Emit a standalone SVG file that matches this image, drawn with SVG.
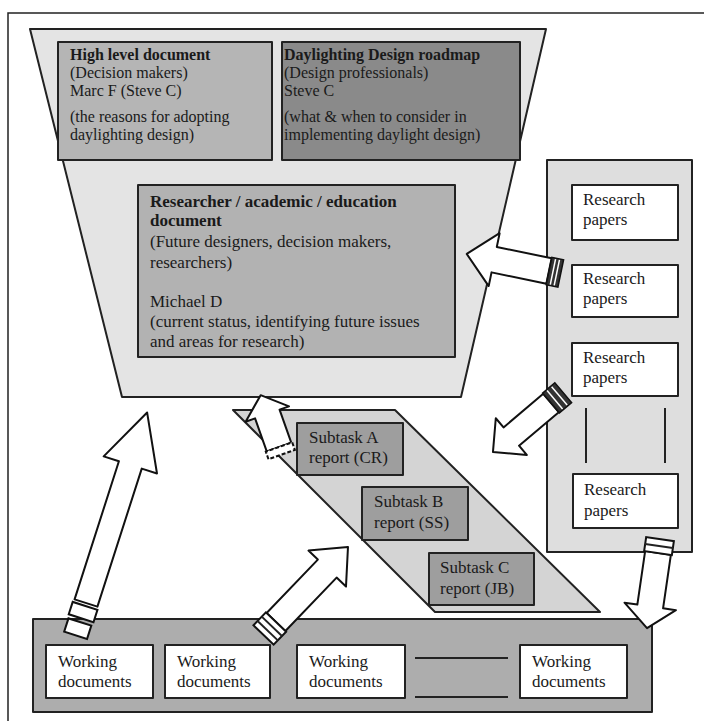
<svg xmlns="http://www.w3.org/2000/svg" width="704" height="721" viewBox="0 0 704 721">
<style>
.ln{stroke:#222;stroke-width:2;stroke-linejoin:round}
.t{font-family:"Liberation Serif","Times New Roman",serif;font-size:17px;fill:#1a1a1a}
.s{font-size:16px}
.b{font-weight:bold}
.w{fill:#fff}
.arr{fill:#fff;stroke:#111;stroke-width:2;stroke-linejoin:round}
.cap{fill:#fff;stroke:#111;stroke-width:2}
.dcap{fill:#333;stroke:#111;stroke-width:1.5}
.st{stroke:#fff;stroke-width:1.5}
</style>
<rect width="704" height="721" fill="#fff"/>
<path d="M8,721 L8,13 L704,13" fill="none" stroke="#222" stroke-width="1.5"/>

<g id="funnel">
<path class="ln" d="M30,29 L546,29 L461,397 L122,397 Z" fill="#e4e4e4"/>
</g>
<g id="high-level">
<rect class="ln" x="58" y="42" width="214" height="118" fill="#b5b5b5"/>
<text class="t s"><tspan class="b" x="70" y="60">High level document</tspan><tspan x="70" y="78">(Decision makers)</tspan><tspan x="70" y="96">Marc F (Steve C)</tspan><tspan x="70" y="122">(the reasons for adopting</tspan><tspan x="70" y="140">daylighting design)</tspan></text>
</g>
<g id="roadmap">
<rect class="ln" x="282" y="42" width="238" height="118" fill="#8a8a8a"/>
<text class="t s"><tspan class="b" x="284" y="60">Daylighting Design roadmap</tspan><tspan x="284" y="78">(Design professionals)</tspan><tspan x="284" y="96">Steve C</tspan><tspan x="284" y="122">(what &amp; when to consider in</tspan><tspan x="284" y="140">implementing daylight design)</tspan></text>
</g>
<g id="researcher">
<rect class="ln" x="138" y="185" width="317" height="172" fill="#b2b2b2"/>
<text class="t"><tspan class="b" x="150" y="207">Researcher / academic / education</tspan><tspan class="b" x="150" y="226">document</tspan><tspan x="150" y="247">(Future designers, decision makers,</tspan><tspan x="150" y="268">researchers)</tspan><tspan x="150" y="307">Michael D</tspan><tspan x="150" y="327">(current status, identifying future issues</tspan><tspan x="150" y="347">and areas for research)</tspan></text>
</g>

<g id="research-panel">
<rect class="ln" x="547" y="160" width="145" height="392" fill="#dedede"/>
<rect class="ln w" x="572" y="185" width="106" height="55"/>
<text class="t"><tspan x="583" y="205">Research</tspan><tspan x="583" y="225">papers</tspan></text>
<rect class="ln w" x="572" y="265" width="106" height="52"/>
<text class="t"><tspan x="583" y="284">Research</tspan><tspan x="583" y="304">papers</tspan></text>
<rect class="ln w" x="572" y="343" width="106" height="53"/>
<text class="t"><tspan x="583" y="363">Research</tspan><tspan x="583" y="383">papers</tspan></text>
<line class="ln" x1="586" y1="408" x2="586" y2="463"/>
<line class="ln" x1="665" y1="408" x2="665" y2="463"/>
<rect class="ln w" x="573" y="474" width="105" height="54"/>
<text class="t"><tspan x="584" y="495">Research</tspan><tspan x="584" y="516">papers</tspan></text>
</g>

<g id="subtasks">
<path class="ln" d="M233,410 L395,410 L600,612 L435,612 Z" fill="#d4d4d4"/>
<rect class="ln" x="297" y="423" width="106" height="52" fill="#9e9e9e"/>
<text class="t"><tspan x="309" y="443">Subtask A</tspan><tspan x="309" y="463">report (CR)</tspan></text>
<rect class="ln" x="362" y="487" width="106" height="53" fill="#9e9e9e"/>
<text class="t"><tspan x="374" y="507">Subtask B</tspan><tspan x="374" y="528">report (SS)</tspan></text>
<rect class="ln" x="429" y="553" width="105" height="52" fill="#9e9e9e"/>
<text class="t"><tspan x="440" y="573">Subtask C</tspan><tspan x="440" y="594">report (JB)</tspan></text>
</g>

<g id="working-panel">
<rect class="ln" x="33" y="619" width="619" height="93" fill="#adadad"/>
<rect class="ln w" x="46" y="645" width="107" height="53"/>
<text class="t"><tspan x="58" y="667">Working</tspan><tspan x="58" y="687">documents</tspan></text>
<rect class="ln w" x="165" y="645" width="105" height="53"/>
<text class="t"><tspan x="177" y="667">Working</tspan><tspan x="177" y="687">documents</tspan></text>
<rect class="ln w" x="297" y="645" width="108" height="53"/>
<text class="t"><tspan x="309" y="667">Working</tspan><tspan x="309" y="687">documents</tspan></text>
<line class="ln" x1="415" y1="658" x2="508" y2="658"/>
<line class="ln" x1="415" y1="697" x2="508" y2="697"/>
<rect class="ln w" x="520" y="645" width="107" height="53"/>
<text class="t"><tspan x="532" y="667">Working</tspan><tspan x="532" y="687">documents</tspan></text>
</g>

<g id="connectors">
<g transform="translate(86,603) rotate(-72.2)">
<path class="arr" d="M0,-12 L145,-12 L145,-28 L200,0 L145,28 L145,12 L0,12 Z"/>
<rect class="cap" x="-16" y="-13" width="13" height="26"/>
<rect class="cap" x="-34" y="-12" width="14" height="24"/>
</g>
<g transform="translate(549,271) rotate(-168.3)">
<path class="arr" d="M0,-13 L56,-13 L56,-27 L84,0 L56,27 L56,13 L0,13 Z"/>
<rect class="dcap" x="-12" y="-14" width="12" height="28"/>
<line class="st" x1="-4" y1="-13" x2="-4" y2="13"/>
<line class="st" x1="-8" y1="-13" x2="-8" y2="13"/>
</g>
<g transform="translate(551,403) rotate(139.8)">
<path class="arr" d="M0,-12 L52,-12 L52,-24 L76,0 L52,24 L52,12 L0,12 Z"/>
<rect class="dcap" x="-16" y="-13" width="16" height="26"/>
<line class="st" x1="-5" y1="-12" x2="-5" y2="12"/>
<line class="st" x1="-11" y1="-12" x2="-11" y2="12"/>
</g>
<g transform="translate(658,553) rotate(98.3)">
<path class="arr" d="M0,-13 L54,-13 L54,-26 L76,0 L54,26 L54,13 L0,13 Z"/>
<rect class="cap" x="-14" y="-14" width="14" height="28"/>
<line class="ln" x1="-7" y1="-14" x2="-7" y2="14"/>
</g>
<g transform="translate(276,622) rotate(-46.2)">
<path class="arr" d="M0,-13 L74,-13 L74,-26 L104,0 L74,26 L74,13 L0,13 Z"/>
<rect class="cap" x="-18" y="-14" width="18" height="28"/>
<line class="ln" x1="-6" y1="-14" x2="-6" y2="14"/>
<line class="ln" x1="-12" y1="-14" x2="-12" y2="14"/>
</g>
<g transform="translate(279,447) rotate(-109.5)">
<path class="arr" d="M0,-13 L35,-13 L35,-23 L55,0 L35,23 L35,13 L0,13 Z"/>
<rect class="cap" x="-8" y="-14" width="8" height="28" stroke-dasharray="4 2"/>
</g>
</g>
</svg>
